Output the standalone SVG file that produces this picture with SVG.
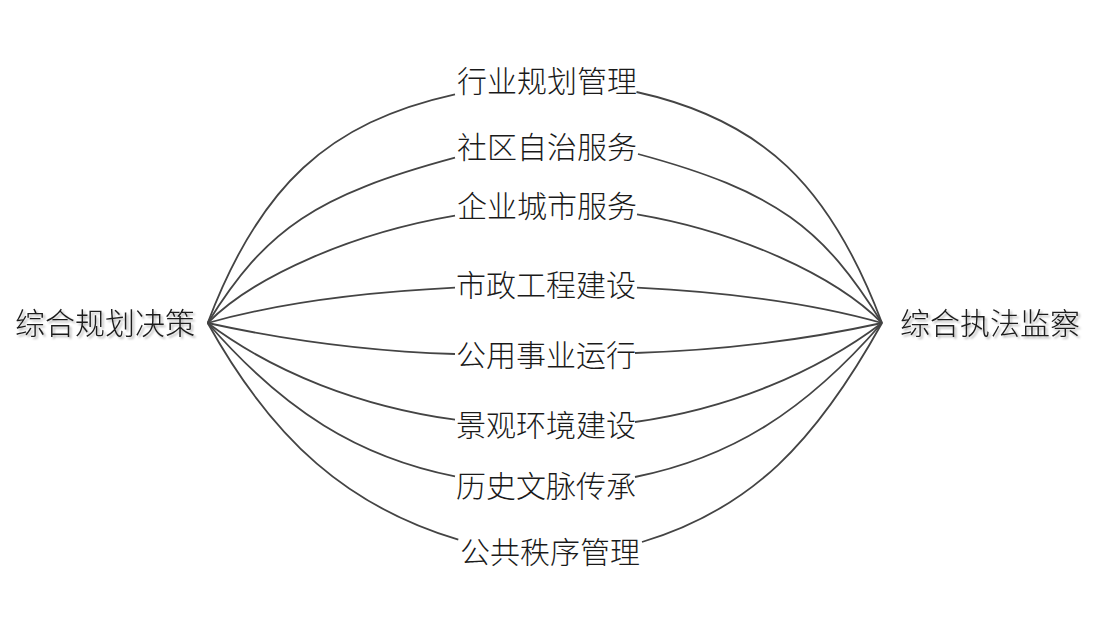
<svg xmlns="http://www.w3.org/2000/svg" width="1099" height="634" viewBox="0 0 1099 634">
  <defs>
    <style>
      .lbl { font-family: "Noto Sans CJK SC", "Noto Sans", sans-serif; font-size: 30px; font-weight: 300; fill: #1a1a1a; text-anchor: middle; }
      .end { filter: url(#shadow); }
      .conn { fill: none; stroke: #444; stroke-width: 1.8; }
    </style>
    <filter id="shadow" x="-10%" y="-30%" width="120%" height="160%">
      <feDropShadow dx="2" dy="2" stdDeviation="1.2" flood-color="#000" flood-opacity="0.3"/>
    </filter>
  </defs>
  <rect width="1099" height="634" fill="#fff"/>
  <g id="connectors">
    <path class="conn" d="M207.7,323 C259.3,186 328.6,122.2 455,94.3"/>
    <path class="conn" d="M207.7,323 C266.5,228.2 316,195.3 455,157.7"/>
    <path class="conn" d="M207.7,323 C254.4,275.6 353.3,233 455,215.7"/>
    <path class="conn" d="M207.7,323 C272.6,304.6 354.2,292.7 455,287.7"/>
    <path class="conn" d="M207.7,323 C288.4,340.7 374.9,351.6 455,354"/>
    <path class="conn" d="M207.7,323 C273.9,372.7 360.4,406.5 455,419.7"/>
    <path class="conn" d="M207.7,323 C284.2,411 358.4,457 455,476.3"/>
    <path class="conn" d="M207.7,323 C273.8,441.9 349,506.9 458.3,539.7"/>
    <path class="conn" d="M636.5,92 C762.9,119.9 830.4,186 882,323"/>
    <path class="conn" d="M638,154 C777,191.6 823.2,228.2 882,323"/>
    <path class="conn" d="M637,214.3 C738.7,231.6 835.3,275.6 882,323"/>
    <path class="conn" d="M637,287.7 C737.8,292.7 817.1,304.6 882,323"/>
    <path class="conn" d="M635,353 C715.1,350.6 801.3,340.7 882,323"/>
    <path class="conn" d="M635,422 C729.6,408.8 815.8,372.7 882,323"/>
    <path class="conn" d="M635,477 C731.6,457.7 805.5,411 882,323"/>
    <path class="conn" d="M642,542 C751.3,509.2 815.9,441.9 882,323"/>
  </g>
  <g id="node-left"><text class="lbl end" x="105" y="334">综合规划决策</text></g>
  <g id="node-right"><text class="lbl end" x="990" y="334">综合执法监察</text></g>
  <g id="node-1"><text class="lbl" x="547" y="92">行业规划管理</text></g>
  <g id="node-2"><text class="lbl" x="547" y="158">社区自治服务</text></g>
  <g id="node-3"><text class="lbl" x="547" y="217">企业城市服务</text></g>
  <g id="node-4"><text class="lbl" x="546" y="296">市政工程建设</text></g>
  <g id="node-5"><text class="lbl" x="546" y="366">公用事业运行</text></g>
  <g id="node-6"><text class="lbl" x="546" y="436">景观环境建设</text></g>
  <g id="node-7"><text class="lbl" x="546" y="497">历史文脉传承</text></g>
  <g id="node-8"><text class="lbl" x="550" y="563">公共秩序管理</text></g>
</svg>
